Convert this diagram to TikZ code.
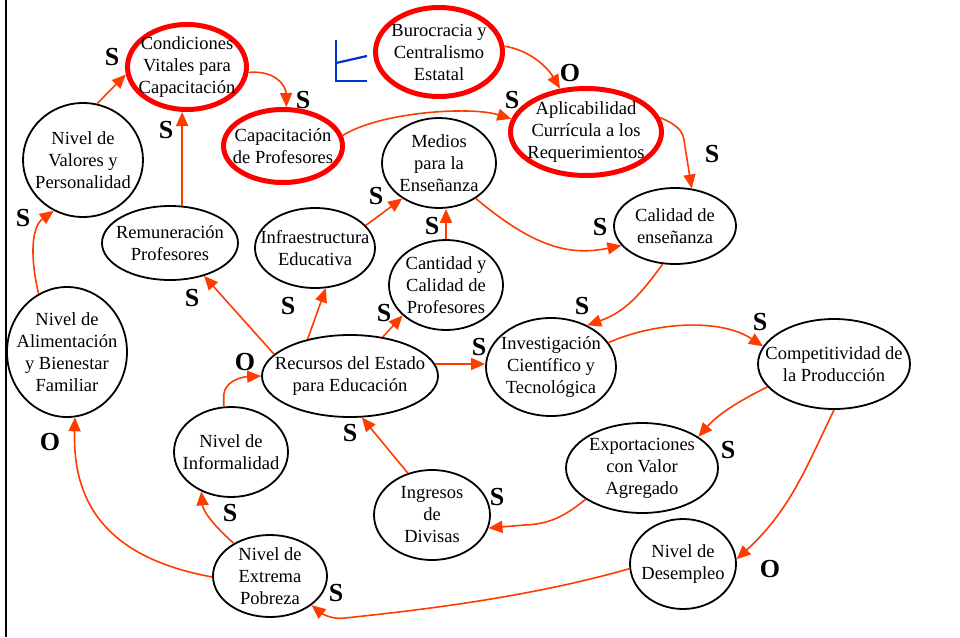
\documentclass[tikz,border=0pt]{standalone}
\usepackage{fontspec}
\setmainfont{Liberation Serif}
\usetikzlibrary{shapes.geometric,arrows.meta}
\definecolor{arrc}{RGB}{255,60,0}
\definecolor{ringc}{RGB}{255,0,0}
\definecolor{bluc}{RGB}{0,51,204}
\begin{document}
\begin{tikzpicture}[x=1pt,y=-1pt,
  el/.style={ellipse, draw=black, line width=1.8pt, inner sep=0pt},
  rel/.style={ellipse, draw=ringc, line width=5pt, inner sep=0pt},
  txt/.style={align=center, font=\fontsize{18.5}{22}\selectfont, inner sep=0pt, text=black},
  con/.style={draw=arrc, line width=1.6pt, -{Triangle[length=14pt,width=12pt]}},
  pol/.style={font=\fontsize{26}{26}\selectfont\bfseries, inner sep=0pt},
  blu/.style={draw=bluc, line width=2.2pt}]
\useasboundingbox (0,0) rectangle (960,637);
\draw[line width=2pt] (6,0) -- (6,637);

% ellipses
\node[rel, minimum width=119pt, minimum height=85pt] (cv) at (187,67) {};
\node[rel, minimum width=127pt, minimum height=89pt] (bur) at (439,52) {};
\node[rel, minimum width=119pt, minimum height=73pt] (cap) at (283,146) {};
\node[rel, minimum width=151pt, minimum height=87pt] (apl) at (586,132) {};
\node[el, minimum width=120pt, minimum height=114pt] (val) at (83,160) {};
\node[el, minimum width=114pt, minimum height=90pt] (med) at (439,163) {};
\node[el, minimum width=122pt, minimum height=76pt] (cal) at (675,226) {};
\node[el, minimum width=136pt, minimum height=74pt] (rem) at (170,243) {};
\node[el, minimum width=120pt, minimum height=80pt] (ie) at (315,248) {};
\node[el, minimum width=114pt, minimum height=90pt] (can) at (446,285) {};
\node[el, minimum width=120pt, minimum height=130pt] (ali) at (67,352) {};
\node[el, minimum width=176pt, minimum height=82pt] (rec) at (350,376) {};
\node[el, minimum width=130pt, minimum height=98pt] (inv) at (551,367) {};
\node[el, minimum width=152pt, minimum height=90pt] (com) at (834,364) {};
\node[el, minimum width=114pt, minimum height=90pt] (nif) at (231,452) {};
\node[el, minimum width=116pt, minimum height=90pt] (ing) at (432,515) {};
\node[el, minimum width=152pt, minimum height=90pt] (exp) at (642,468) {};
\node[el, minimum width=114pt, minimum height=82pt] (pob) at (270,576) {};
\node[el, minimum width=106pt, minimum height=90pt] (des) at (683,564) {};

% texts
\node[txt] (cvt) at (cv) {Condiciones\\Vitales para\\Capacitación};
\node[txt] (burt) at (bur) {Burocracia y\\Centralismo\\Estatal};
\node[txt] (capt) at (cap) {Capacitación\\de Profesores};
\node[txt] (aplt) at (apl) {Aplicabilidad\\Currícula a los\\Requerimientos};
\node[txt] (valt) at (val) {Nivel  de\\Valores  y\\Personalidad};
\node[txt] (medt) at (med) {Medios\\para la\\Enseñanza};
\node[txt] (calt) at (cal) {Calidad de\\enseñanza};
\node[txt] (remt) at (rem) {Remuneración\\Profesores};
\node[txt] (iet) at (ie) {Infraestructura\\Educativa};
\node[txt] (cant) at (can) {Cantidad y\\Calidad  de\\Profesores};
\node[txt] (alit) at (ali) {Nivel de\\Alimentación\\y Bienestar\\Familiar};
\node[txt] (rect) at (rec) {Recursos del Estado\\para Educación};
\node[txt] (invt) at (inv) {Investigación\\Científico y\\Tecnológica};
\node[txt] (comt) at (com) {Competitividad de\\la Producción};
\node[txt] (nift) at (nif) {Nivel de\\Informalidad};
\node[txt] (ingt) at (ing) {Ingresos\\de\\Divisas};
\node[txt] (expt) at (exp) {Exportaciones\\con Valor\\Agregado};
\node[txt] (pobt) at (pob) {Nivel de\\Extrema\\Pobreza};
\node[txt] (dest) at (des) {Nivel de\\Desempleo};

% connectors
\draw[con] (val.76) -- (cv.187);
\draw[con] (rem.72) -- (rem.72 |- cv.south);
\draw[con] (cv.355) .. controls (278,70) and (286,88) .. (cap.85);
\draw[con] (bur.5) .. controls (530,50) and (548,68) .. (apl.121);
\draw[con] (cap.10) .. controls (380,112) and (470,106) .. (apl.170);
\draw[con] (apl.11) .. controls (678,125) and (683,132) .. (684,140) -- (cal.66);
\draw[con] (ali.116) .. controls (31,262) and (30,228) .. (val.240);
\draw[con] (rec.164) -- (rem.316);
\draw[con] (rec.139) -- (ie.285);
\draw[con] (rec.50) -- (can.215);
\draw[con] (ie.24) -- (med.224);
\draw[con] (can.north) -- (can.north |- med.south);
\draw[con] (med.316) .. controls (535,248) and (570,256) .. (cal.200);
\draw[con] (cal.252) .. controls (640,295) and (625,312) .. (inv.49);
\draw[con] (rec.8) -- (rec.8 -| inv.west);
\draw[con] (inv.23) .. controls (655,322) and (720,318) .. (com.166);
\draw[con] (com.199) .. controls (745,398) and (720,412) .. (exp.29);
\draw[con] (com.south) .. controls (805,470) and (790,510) .. (des.5);
\draw[con] (exp.209) .. controls (565,516) and (550,524) .. (525,525) -- (ing.347);
\draw[con] (ing.120) -- (rec.286);
\draw[con] (nif.99) -- ++(0,-12) .. controls (225,382) and (240,377) .. (rec.west);
\draw[con] (pob.138) .. controls (210,522) and (203,510) .. (nif.233);
\draw[con] (pob.181) .. controls (120,560) and (72,515) .. (ali.277);
\draw[con] (des.185) .. controls (520,600) and (400,612) .. (345,618) .. controls (330,620) and (320,612) .. (pob.325);

% polarity labels
\node[pol] (l1) at (112,57) {S};
\node[pol] (l2) at (166,130) {S};
\node[pol] (l3) at (303,100) {S};
\node[pol] (l4) at (570,73) {O};
\node[pol] (l5) at (512,100) {S};
\node[pol] (l6) at (712,154) {S};
\node[pol] (l7) at (23,218) {S};
\node[pol] (l8) at (192,298) {S};
\node[pol] (l9) at (288,306) {S};
\node[pol] (l10) at (384,313) {S};
\node[pol] (l11) at (376,196) {S};
\node[pol] (l12) at (432,226) {S};
\node[pol] (l13) at (600,227) {S};
\node[pol] (l14) at (582,306) {S};
\node[pol] (l15) at (479,347) {S};
\node[pol] (l16) at (760,322) {S};
\node[pol] (l17) at (728,450) {S};
\node[pol] (l18) at (770,569) {O};
\node[pol] (l19) at (497,497) {S};
\node[pol] (l20) at (350,433) {S};
\node[pol] (l21) at (245,362) {O};
\node[pol] (l22) at (230,513) {S};
\node[pol] (l23) at (50,442) {O};
\node[pol] (l24) at (336,593) {S};

% blue mark
\draw[blu] (336,40) -- (336,81) -- (367,81);
\draw[blu] (336,63) -- (367,56);
\end{tikzpicture}
\end{document}
